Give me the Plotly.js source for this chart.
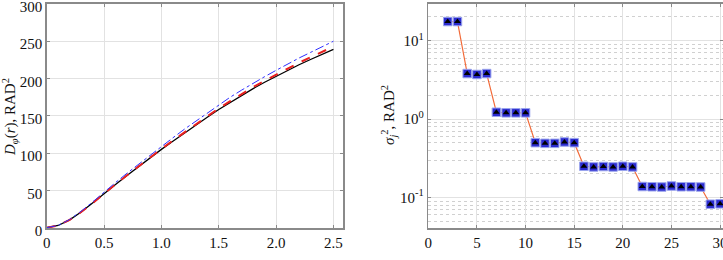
<!DOCTYPE html>
<html><head><meta charset="utf-8">
<script src="https://cdn.plot.ly/plotly-3.0.1.min.js"></script>
<style>html,body{margin:0;padding:0;background:#fff}#c{width:723px;height:260px}</style>
</head><body><div id="c"></div>
<script>
// Left panel: structure function D_phi(r)
const r = [0,0.1,0.2,0.3,0.4,0.5,0.6,0.7,0.8,0.9,1.0,1.1,1.2,1.3,1.4,1.5,1.6,1.7,1.8,1.9,2.0,2.1,2.2,2.3,2.4,2.5];
const dBlack = [0,3,10.5,21,33,46,58,70,82,94,105,116,127,138,148,158.5,168,177.5,186.5,195,203,211,218.5,225.5,232.5,239];
const dRed   = [0,3,10.5,21,33,46,58.2,70.3,82.4,94.5,105.6,116.8,127.9,139,149.3,160,169.7,179.3,188.5,197,205.2,213.5,221.2,228.5,235.8,242.8];
const dBlue  = [0,3.1,11,22,34.5,48,60.5,73,85,97.5,109,120.5,132,143,154,165,175,184.5,194,202.5,211,219.5,227.5,235,242.5,250];
const rTickVals = [0,0.5,1,1.5,2,2.5];
const rTickText = ['0','0.5','1.0','1.5','2.0','2.5'];
// Right panel: variances sigma_j^2
const j = [2,3,4,5,6,7,8,9,10,11,12,13,14,15,16,17,18,19,20,21,22,23,24,25,26,27,28,29,30];
const sigma2 = [17.5,17.5,3.8,3.7,3.8,1.22,1.2,1.2,1.2,0.5,0.49,0.49,0.51,0.5,0.25,0.245,0.248,0.245,0.25,0.245,0.138,0.137,0.136,0.14,0.137,0.137,0.136,0.082,0.083];
const logTickVals = [0.1,1,10];
const logTickText = ['10<sup>-1</sup>','10<sup>0</sup>','10<sup>1</sup>'];
const leftTitle = '<i>D</i><sub><i>φ</i></sub>(<i>r</i>), RAD<sup>2</sup>';
const rightTitle = '<i>σ</i><sub><i>j</i></sub><sup>2</sup>, RAD<sup>2</sup>';

const W = 723, H = 260;
const fnt = {family:'Liberation Serif', size:15, color:'#111'};
const frame = {showline:true, mirror:'ticks', linecolor:'#8a8a8a', linewidth:1.5,
  ticks:'inside', ticklen:3, tickcolor:'#8a8a8a', gridcolor:'#e2e2e2', gridwidth:1,
  zeroline:false, automargin:false, tickfont:fnt, ticklabeloverflow:'allow'};

const traces = [
  {x:r, y:dBlack, mode:'lines', line:{color:'#000', width:1.3}, xaxis:'x', yaxis:'y'},
  {x:r, y:dRed, mode:'lines', line:{color:'#e8201f', width:2, dash:'dash'}, xaxis:'x', yaxis:'y'},
  {x:r, y:dBlue, mode:'lines', line:{color:'#2f2fff', width:1, dash:'dashdot'}, xaxis:'x', yaxis:'y'},
  {x:j, y:sigma2, mode:'lines', line:{color:'#f26b3a', width:1.2}, xaxis:'x2', yaxis:'y2'},
  {x:j, y:sigma2, mode:'markers', marker:{symbol:'square', size:8.5, color:'#2b2bd0', line:{color:'#9aa4ee', width:1}}, xaxis:'x2', yaxis:'y2'},
  {x:j, y:sigma2, mode:'markers', marker:{symbol:'triangle-up', size:6, color:'#000'}, xaxis:'x2', yaxis:'y2'}
];

const yTop = 1 - 3.5/H, yBot = 1 - 228.3/H;
const layout = {
  width:W, height:H, margin:{l:0,r:0,t:0,b:0}, showlegend:false,
  paper_bgcolor:'#fff', plot_bgcolor:'#fff', font:fnt,
  xaxis: Object.assign({}, frame, {domain:[46.7/W, 343.3/W], range:[0,2.586], tickvals:rTickVals, ticktext:rTickText, anchor:'y'}),
  yaxis: Object.assign({}, frame, {domain:[yBot, yTop], range:[-0.8,300.6], dtick:50, anchor:'x', ticklabelshift:3}),
  xaxis2: Object.assign({}, frame, {domain:[428.3/W, 1], range:[0,30.3], dtick:5, anchor:'y2'}),
  yaxis2: Object.assign({}, frame, {domain:[yBot, yTop], type:'log', range:[-1.393,1.473], anchor:'x2',
    tickvals:logTickVals, ticktext:logTickText,
    minor:{showgrid:true, gridcolor:'#d0d0d0', griddash:'dot', gridwidth:1, ticks:'', dtick:'D1'}}),
  annotations:[
    {text:leftTitle, xref:'paper', yref:'paper', x:10/W, y:1-117/H, textangle:-90, showarrow:false, font:fnt, xanchor:'center', yanchor:'middle'},
    {text:rightTitle, xref:'paper', yref:'paper', x:389/W, y:1-115/H, textangle:-90, showarrow:false, font:fnt, xanchor:'center', yanchor:'middle'}
  ]
};
Plotly.newPlot('c', traces, layout, {staticPlot:true, displayModeBar:false});
</script></body></html>
